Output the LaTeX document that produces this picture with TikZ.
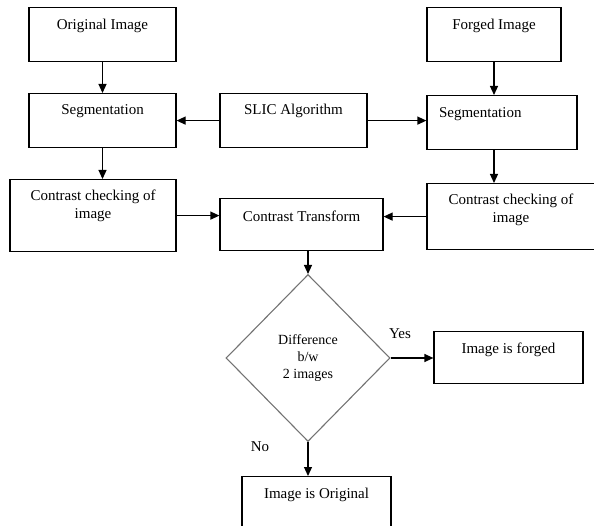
\documentclass[tikz,border=0pt]{standalone}
\usepackage{fontspec}
\setmainfont{Liberation Serif}
\usetikzlibrary{shapes.geometric, arrows.meta, calc}
\tikzset{
    box/.style = {draw, line width=1.2pt, anchor=north, inner xsep=0pt, inner ysep=0pt, align=center},
    decision/.style = {diamond, draw=black!55, line width=1.1pt, inner sep=0pt, align=center,
        font=\fontsize{14pt}{17pt}\selectfont},
    flow/.style = {line width=1.2pt, -{Triangle[length=9pt,width=8pt]}},
}

\begin{document}
\begin{tikzpicture}[x=1pt, y=-1pt, font=\fontsize{15pt}{18pt}\selectfont]
\clip (0,0) rectangle (594,526);

% left column
\node[box, minimum width=147pt, text height=22pt, text depth=32pt] (orig) at (102.5,7) {Original Image};
\node[box, minimum width=147pt, text height=21pt, text depth=33pt] (segl) at (102.5,93) {Segmentation};
\node[box, minimum width=166pt, text height=39pt, text depth=33pt] (chkl) at (93,179) {Contrast checking of\\image};

% middle column
\node[box, minimum width=147pt, text height=21pt, text depth=33pt] (slic) at (293.5,93) {SLIC Algorithm};
\node[box, minimum width=163pt, text height=23pt, text depth=29pt] (ctr) at (301.5,198) {Contrast Transform};

% right column
\node[box, minimum width=134pt, text height=22pt, text depth=32pt] (forg) at (494,7) {Forged Image};
\node[box, inner xsep=12pt, text width=126pt, align=left, text height=22pt, text depth=32pt] (segr) at (502,95) {Segmentation};
\node[box, minimum width=180pt, text height=39pt, text depth=27pt] (chkr) at (517,183) {\hspace*{-12pt}Contrast checking of\\\hspace*{-12pt}image};

% decision
\node[decision, minimum width=164pt, minimum height=167pt] (dec) at (308,358) {Difference\\b/w\\2 images};
\node[box, minimum width=149pt, text height=22pt, text depth=30pt] (forged) at (508.5,331) {Image is forged};
\node[box, minimum width=149pt, text height=22pt, text depth=40pt] (orig2) at (316.5,476) {Image is Original};

\node (yes) at (400,334) {Yes};
\node (no) at (260,447) {No};

% connectors
\draw[flow] (orig) -- (segl);
\draw[flow] (segl.south) -- (segl.south |- chkl.north);
\draw[flow] (slic.west) -- (slic.west -| segl.east);
\draw[flow] (slic.east) -- (slic.east -| segr.west);
\draw[flow] (forg.south) -- (forg.south |- segr.north);
\draw[flow] (segr.south -| forg) -- (chkr.north -| forg);
\draw[flow] (chkl.east) -- (chkl.east -| ctr.west);
\draw[flow] (chkr.west) -- (chkr.west -| ctr.east);
\draw[flow] (ctr.south -| dec.north) -- (dec.north);
\draw[flow] (dec.east) -- (dec.east -| forged.west);
\draw[flow] (dec.south) -- (dec.south |- orig2.north);
\end{tikzpicture}
\end{document}
